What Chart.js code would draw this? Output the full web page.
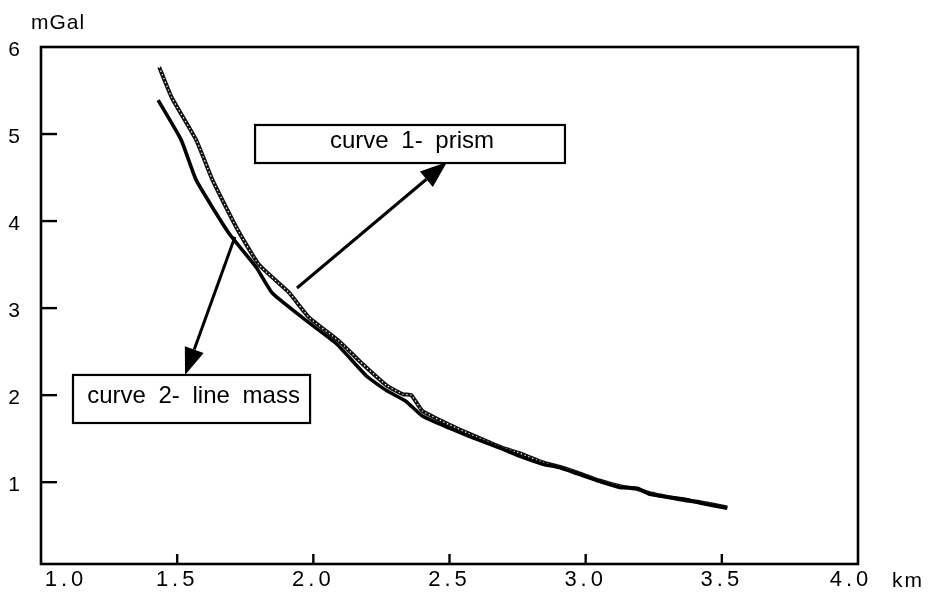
<!DOCTYPE html>
<html>
<head>
<meta charset="utf-8">
<script src="https://cdn.jsdelivr.net/npm/chart.js@4.4.0/dist/chart.umd.min.js"></script>
<style>
  html, body { margin: 0; padding: 0; background: #fff; }
  #wrap { width: 932px; height: 593px; }
</style>
</head>
<body>
<div id="wrap"><canvas id="gravChart" width="932" height="593"></canvas></div>
<script>
// Gravity anomaly along the profile: distance (km) vs anomaly (mGal)
var prismKm   = [1.434, 1.48, 1.57, 1.63, 1.717, 1.80, 1.91, 1.985, 2.095, 2.17, 2.27, 2.33, 2.36, 2.40, 2.50, 2.57, 2.69, 2.76, 2.84, 2.90, 2.97, 3.05, 3.13, 3.19, 3.24, 3.30, 3.37, 3.42, 3.52];
var prismMgal = [5.77, 5.42, 4.93, 4.47, 3.93, 3.50, 3.18, 2.89, 2.62, 2.39, 2.11, 2.01, 2.00, 1.82, 1.66, 1.56, 1.40, 1.33, 1.23, 1.18, 1.11, 1.02, 0.95, 0.92, 0.87, 0.83, 0.79, 0.77, 0.71];

var lineMassKm   = [1.43, 1.515, 1.57, 1.69, 1.79, 1.85, 1.985, 2.085, 2.195, 2.27, 2.34, 2.40, 2.50, 2.57, 2.695, 2.757, 2.84, 2.90, 2.967, 3.05, 3.125, 3.19, 3.235, 3.30, 3.37, 3.42, 3.52];
var lineMassMgal = [5.39, 4.93, 4.47, 3.86, 3.47, 3.17, 2.83, 2.59, 2.22, 2.05, 1.93, 1.76, 1.62, 1.53, 1.38, 1.30, 1.21, 1.17, 1.10, 1.01, 0.94, 0.93, 0.86, 0.83, 0.80, 0.76, 0.70];

var xTickValues = [1.0, 1.5, 2.0, 2.5, 3.0, 3.5, 4.0];
var yTickValues = [1, 2, 3, 4, 5, 6];

function toPoints(xs, ys) {
  return xs.map(function(x, i) { return { x: x, y: ys[i] }; });
}

var prismPts = toPoints(prismKm, prismMgal);
var lineMassPts = toPoints(lineMassKm, lineMassMgal);

// labelled boxes and arrows, in data units
var labelBoxes = [
  { text: 'curve 1- prism',     x0: 1.786, x1: 2.924, y0: 5.104, y1: 4.667 },
  { text: 'curve 2- line mass', x0: 1.1175, x1: 1.988, y0: 2.232, y1: 1.680 }
];
var arrows = [
  { fromX: 1.940, fromY: 3.231, toX: 2.491, toY: 4.68 },
  { fromX: 1.712, fromY: 3.817, toX: 1.529, toY: 2.232 }
];

function drawArrow(ctx, x1, y1, x2, y2) {
  var ang = Math.atan2(y2 - y1, x2 - x1);
  var headLen = 27, headHalf = 10;
  var bx = x2 - headLen * Math.cos(ang), by = y2 - headLen * Math.sin(ang);
  ctx.beginPath();
  ctx.moveTo(x1, y1);
  ctx.lineTo(bx, by);
  ctx.stroke();
  ctx.beginPath();
  ctx.moveTo(x2, y2);
  ctx.lineTo(bx + headHalf * Math.sin(ang), by - headHalf * Math.cos(ang));
  ctx.lineTo(bx - headHalf * Math.sin(ang), by + headHalf * Math.cos(ang));
  ctx.closePath();
  ctx.fill();
}

var framePlugin = {
  id: 'frame',
  afterDraw: function(chart) {
    var ctx = chart.ctx, a = chart.chartArea;
    var xs = chart.scales.x, ys = chart.scales.y;
    ctx.save();
    ctx.strokeStyle = '#000';
    ctx.fillStyle = '#000';
    ctx.lineWidth = 2.6;
    ctx.strokeRect(a.left, a.top, a.right - a.left, a.bottom - a.top);

    // inward tick marks
    ctx.lineWidth = 2.4;
    xTickValues.forEach(function(v) {
      if (v <= 1.0 || v >= 4.0) return;
      var px = xs.getPixelForValue(v);
      ctx.beginPath(); ctx.moveTo(px, a.bottom); ctx.lineTo(px, a.bottom - 10); ctx.stroke();
    });
    yTickValues.forEach(function(v) {
      if (v >= 6) return;
      var py = ys.getPixelForValue(v);
      ctx.beginPath(); ctx.moveTo(a.left, py); ctx.lineTo(a.left + 16, py); ctx.stroke();
    });

    // tick labels
    ctx.font = '22px "Liberation Sans", Arial, sans-serif';
    ctx.textBaseline = 'middle';
    ctx.textAlign = 'center';
    ctx.letterSpacing = '4px';
    xTickValues.forEach(function(v, i) {
      var px = xs.getPixelForValue(v);
      if (i === 0) px += 25;
      if (i === xTickValues.length - 1) px -= 7;
      ctx.fillText(v.toFixed(1), px, a.bottom + 16);
    });
    ctx.letterSpacing = '0px';
    ctx.font = '21px "Liberation Sans", Arial, sans-serif';
    yTickValues.forEach(function(v) {
      ctx.fillText(String(v), 14, ys.getPixelForValue(v) + 3);
    });

    // units
    ctx.font = '21px "Liberation Sans", Arial, sans-serif';
    ctx.textAlign = 'left';
    ctx.letterSpacing = '1px';
    ctx.fillText('mGal', 31, 23);
    ctx.letterSpacing = '2px';
    ctx.fillText('km', 892, a.bottom + 17);
    ctx.letterSpacing = '0px';

    // label boxes
    ctx.lineWidth = 2.2;
    ctx.font = '24px "Liberation Sans", Arial, sans-serif';
    ctx.textAlign = 'center';
    ctx.wordSpacing = '6px';
    labelBoxes.forEach(function(b) {
      var l = xs.getPixelForValue(b.x0), r = xs.getPixelForValue(b.x1);
      var t = ys.getPixelForValue(b.y0), btm = ys.getPixelForValue(b.y1);
      ctx.fillStyle = '#fff';
      ctx.fillRect(l, t, r - l, btm - t);
      ctx.strokeRect(l, t, r - l, btm - t);
      ctx.fillStyle = '#000';
      ctx.fillText(b.text, (l + r) / 2 + 2, (t + btm) / 2 - 3);
    });
    ctx.wordSpacing = '0px';

    // arrows
    ctx.lineWidth = 3;
    arrows.forEach(function(ar) {
      drawArrow(ctx, xs.getPixelForValue(ar.fromX), ys.getPixelForValue(ar.fromY),
                xs.getPixelForValue(ar.toX), ys.getPixelForValue(ar.toY));
    });
    ctx.restore();
  }
};

var ctx = document.getElementById('gravChart').getContext('2d');
var gravChart = new Chart(ctx, {
  type: 'line',
  data: {
    datasets: [
      {
        label: 'curve 2- line mass',
        data: lineMassPts,
        borderColor: '#000',
        borderWidth: 3.6,
        pointRadius: 0,
        tension: 0.15,
        order: 0
      },
      {
        // light specks that give the prism curve its beaded look
        label: 'curve 1- prism (core)',
        data: prismPts,
        borderColor: '#fff',
        borderWidth: 1.3,
        borderDash: [1.2, 2.8],
        pointRadius: 0,
        tension: 0.15,
        order: 1
      },
      {
        label: 'curve 1- prism',
        data: prismPts,
        borderColor: '#111',
        borderWidth: 4,
        pointRadius: 0,
        tension: 0.15,
        order: 2
      }
    ]
  },
  options: {
    responsive: false,
    animation: false,
    layout: { padding: { left: 41, top: 47, right: 74, bottom: 29 } },
    scales: {
      x: { type: 'linear', min: 1.0, max: 4.0, display: false },
      y: { type: 'linear', min: 0.06, max: 6, display: false }
    },
    plugins: {
      legend: { display: false },
      tooltip: { enabled: false }
    }
  },
  plugins: [framePlugin]
});
</script>
</body>
</html>
